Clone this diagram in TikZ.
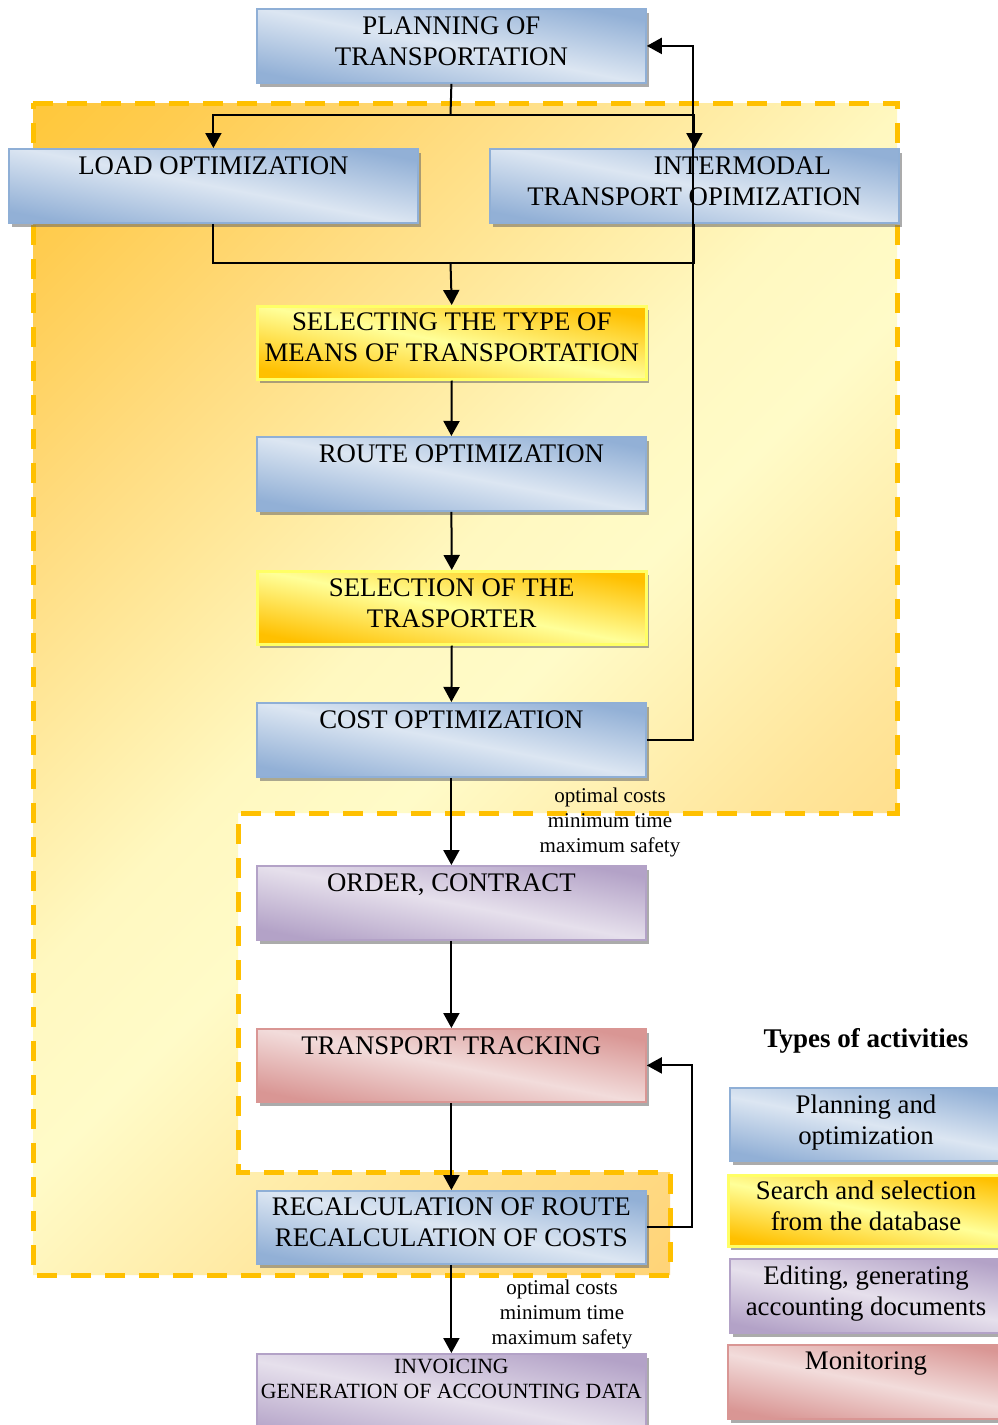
\documentclass[tikz,border=0pt]{standalone}
\usepackage{fontspec}
\setmainfont{Liberation Serif}
\usetikzlibrary{arrows.meta,shadows}
\definecolor{bdark}{HTML}{92B0D6}
\definecolor{blight}{HTML}{DCE6F2}
\definecolor{bedge}{HTML}{8FAFD6}
\definecolor{ydark}{HTML}{FFC000}
\definecolor{ylight}{HTML}{FFFF99}
\definecolor{yedge}{HTML}{FFFF66}
\definecolor{pdark}{HTML}{B3A2C7}
\definecolor{plight}{HTML}{E6E0EC}
\definecolor{rdark}{HTML}{D99694}
\definecolor{rlight}{HTML}{F2DCDB}
\definecolor{dashc}{HTML}{FFC000}
\definecolor{rg0}{HTML}{FFC640}
\definecolor{rg20}{HTML}{FFD070}
\definecolor{rg35}{HTML}{FFE59A}
\definecolor{rg48}{HTML}{FFFBC8}
\definecolor{rg55}{HTML}{FFF8C0}
\definecolor{rg70}{HTML}{FFDC80}
\definecolor{rg80}{HTML}{FFCC50}
\definecolor{rg90}{HTML}{FFC428}
\definecolor{rg100}{HTML}{FFC000}
\pgfdeclareverticalshading{regshade}{100bp}{color(0bp)=(rg0); color(20bp)=(rg20);
  color(35bp)=(rg35); color(48bp)=(rg48); color(55bp)=(rg55); color(70bp)=(rg70);
  color(80bp)=(rg80); color(90bp)=(rg90); color(100bp)=(rg100)}
\tikzset{
  boxbase/.style={rectangle, inner sep=0pt, anchor=north west,
    drop shadow={shadow xshift=3pt, shadow yshift=-4pt, opacity=0.55, fill=black!60}},
  bluebox/.style={boxbase, draw=bedge, line width=1.8pt,
    top color=bdark, bottom color=bdark, middle color=blight, shading angle=-11},
  yelbox/.style={boxbase, draw=yedge, line width=2.5pt,
    top color=ydark, bottom color=ydark, middle color=ylight, shading angle=-11},
  purbox/.style={boxbase, draw=pdark, line width=1.8pt,
    top color=pdark, bottom color=pdark, middle color=plight, shading angle=-11},
  redbox/.style={boxbase, draw=rdark, line width=1.8pt,
    top color=rdark, bottom color=rdark, middle color=rlight, shading angle=-11},
  txt/.style={inner sep=0pt, anchor=north, align=center, font=\fontsize{26.8}{31}\selectfont},
  smalltxt/.style={inner sep=0pt, anchor=north, align=center, font=\fontsize{21.7}{25}\selectfont},
  lbl/.style={inner sep=0pt, align=center, font=\fontsize{21}{25}\selectfont},
  conn/.style={draw=black, line width=2pt},
  arr/.style={conn, -{Triangle[length=15pt,width=16pt]}},
  region/.style={shading=regshade, shading angle=45},
  regionedge/.style={draw=dashc, line width=5pt, dash pattern=on 20pt off 14pt}
}
\begin{document}
\begin{tikzpicture}[x=1pt,y=-1pt]
\useasboundingbox (0,0) rectangle (997,1425);
\fill[white] (0,0) rectangle (997,1425);

% highlighted region
\path[region] (33,103) -- (897,103) -- (897,813) -- (238,813) -- (238,1172)
  -- (670,1172) -- (670,1275) -- (33,1275) -- cycle;
\draw[regionedge] (33,103) -- (897,103) -- (897,813) -- (238,813) -- (238,1172)
  -- (670,1172) -- (670,1275) -- (33,1275) -- cycle;

% boxes
\node[bluebox, minimum width=389pt, minimum height=74pt] (plan) at (256,8) {};
\node[bluebox, minimum width=409pt, minimum height=74pt] (load) at (8,148) {};
\node[bluebox, minimum width=409pt, minimum height=74pt] (inter) at (489,148) {};
\node[yelbox, minimum width=389pt, minimum height=73pt] (sel) at (256,305) {};
\node[bluebox, minimum width=389pt, minimum height=74pt] (route) at (256,436) {};
\node[yelbox, minimum width=389pt, minimum height=73pt] (trans) at (256,570) {};
\node[bluebox, minimum width=389pt, minimum height=74pt] (cost) at (256,702) {};
\node[purbox, minimum width=389pt, minimum height=74pt] (order) at (256,865) {};
\node[redbox, minimum width=389pt, minimum height=73pt] (track) at (256,1028) {};
\node[bluebox, minimum width=389pt, minimum height=73pt] (recalc) at (256,1190) {};
\node[purbox, minimum width=389pt, minimum height=90pt] (inv) at (256,1353) {};

% legend boxes
\node[bluebox, minimum width=285pt, minimum height=73pt] (lp) at (729,1087) {};
\node[yelbox, minimum width=287pt, minimum height=71pt] (ls) at (727,1174) {};
\node[purbox, minimum width=285pt, minimum height=74pt] (le) at (729,1258) {};
\node[redbox, minimum width=287pt, minimum height=74pt] (lm) at (727,1344) {};

% texts
\node[txt] (plant) at ([yshift=-8.5pt]plan.north) {PLANNING OF\\TRANSPORTATION};
\node[txt] (loadt) at ([yshift=-8.5pt]load.north) {LOAD OPTIMIZATION};
\node[txt] (intert) at ([yshift=-8.5pt]inter.north) {\hspace*{96pt}INTERMODAL\\TRANSPORT OPIMIZATION};
\node[txt] (selt) at ([yshift=-7.5pt]sel.north) {SELECTING THE TYPE OF\\MEANS OF TRANSPORTATION};
\node[txt] (routet) at ([xshift=10pt,yshift=-8.5pt]route.north) {ROUTE OPTIMIZATION};
\node[txt] (transt) at ([yshift=-8.5pt]trans.north) {SELECTION OF THE\\TRASPORTER};
\node[txt] (costt) at ([yshift=-8.5pt]cost.north) {COST OPTIMIZATION};
\node[txt] (ordert) at ([yshift=-8.5pt]order.north) {ORDER, CONTRACT};
\node[txt] (trackt) at ([yshift=-8.5pt]track.north) {TRANSPORT TRACKING};
\node[txt] (recalct) at ([yshift=-7.5pt]recalc.north) {RECALCULATION OF ROUTE\\RECALCULATION OF COSTS};
\node[smalltxt] (invt) at ([yshift=-6pt]inv.north) {INVOICING\\GENERATION OF ACCOUNTING DATA};

\node[inner sep=0pt, font=\fontsize{27}{31}\selectfont\bfseries] (legt) at (866,1041) {Types of activities};
\node[txt] (lpt) at (866,1095) {Planning and\\optimization};
\node[txt] (lst) at (866,1181) {Search and selection\\from the database};
\node[txt] (let) at (866,1266) {Editing, generating\\accounting documents};
\node[txt] (lmt) at (866,1352) {Monitoring};

% connectors
\coordinate (jtop) at (450.5,115);
\coordinate (jmid) at (450.5,263);
\coordinate (fbx) at (693,0);
\coordinate (fbx2) at (692,0);
\draw[conn] (plan.south) -- (jtop);
\draw[arr] (jtop) -| (load.north);
\draw[arr] (jtop) -| (inter.north);
\draw[conn] (load.south) |- (jmid);
\draw[conn] (inter.south) |- (jmid);
\draw[arr] (jmid) -- (sel.north);
\draw[arr] (sel.south) -- (route.north);
\draw[arr] (route.south) -- (trans.north);
\draw[arr] (trans.south) -- (cost.north);
\draw[arr] (cost.south) -- (order.north);
\draw[arr] (order.south) -- (track.north);
\draw[arr] (track.south) -- (recalc.north);
\draw[arr] (recalc.south) -- (inv.north);
\draw[arr] (cost.east) -| (fbx |- plan.east) -- (plan.east);
\draw[arr] (recalc.east) -| (fbx2 |- track.east) -- (track.east);

% labels
\node[lbl] (lab1) at (610,822) {optimal costs\\minimum time\\maximum safety};
\node[lbl] (lab2) at (562,1314) {optimal costs\\minimum time\\maximum safety};
\end{tikzpicture}
\end{document}
